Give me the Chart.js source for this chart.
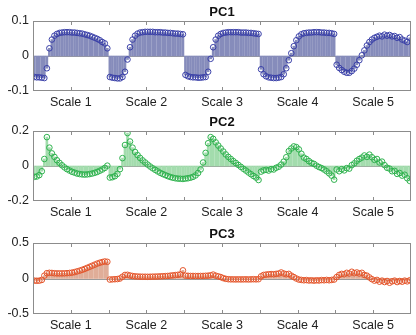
<!DOCTYPE html>
<html>
<head>
<meta charset="utf-8">
<script src="https://cdn.jsdelivr.net/npm/chart.js@4/dist/chart.umd.min.js"></script>
<style>
  body { margin: 0; background: #fff; }
  .panel { position: absolute; left: 0; width: 416px; }
</style>
</head>
<body>
<div class="panel" style="top:0px"><canvas id="pc1" width="416" height="110"></canvas></div>
<div class="panel" style="top:110px"><canvas id="pc2" width="416" height="110"></canvas></div>
<div class="panel" style="top:220px"><canvas id="pc3" width="416" height="115"></canvas></div>
<script>
// 5 scales, 30 loadings per scale
const scaleNames = ["Scale 1", "Scale 2", "Scale 3", "Scale 4", "Scale 5"];
const perScale = 30;
const titles = ["PC1", "PC2", "PC3"];
const yLimits = [0.1, 0.2, 0.5];

const pc1 = [
  -0.060, -0.061, -0.061, -0.062, -0.063, -0.035, 0.022, 0.047, 0.058, 0.063, 0.066, 0.067, 0.068, 0.068, 0.068, 0.067, 0.067, 0.066, 0.065, 0.064, 0.062, 0.060, 0.058, 0.055, 0.052, 0.049, 0.045, 0.040, 0.036, 0.022,
  -0.060, -0.062, -0.063, -0.064, -0.064, -0.060, -0.045, -0.010, 0.025, 0.047, 0.058, 0.064, 0.067, 0.068, 0.069, 0.069, 0.069, 0.069, 0.068, 0.068, 0.068, 0.067, 0.067, 0.066, 0.066, 0.065, 0.064, 0.064, 0.063, 0.062,
  -0.054, -0.058, -0.060, -0.061, -0.061, -0.062, -0.062, -0.061, -0.060, -0.045, -0.008, 0.025, 0.047, 0.058, 0.063, 0.066, 0.067, 0.068, 0.068, 0.068, 0.068, 0.068, 0.067, 0.067, 0.067, 0.066, 0.066, 0.065, 0.064, 0.063,
  -0.038, -0.052, -0.058, -0.061, -0.062, -0.063, -0.063, -0.062, -0.060, -0.052, -0.035, -0.012, 0.008, 0.028, 0.045, 0.056, 0.062, 0.065, 0.066, 0.067, 0.067, 0.068, 0.068, 0.068, 0.067, 0.067, 0.066, 0.066, 0.065, 0.063,
  -0.025, -0.034, -0.040, -0.045, -0.048, -0.048, -0.043, -0.036, -0.025, -0.012, 0.002, 0.016, 0.030, 0.040, 0.047, 0.052, 0.055, 0.058, 0.056, 0.061, 0.058, 0.060, 0.056, 0.057, 0.052, 0.054, 0.047, 0.044, 0.040, 0.052
];

const pc2 = [
  -0.062, -0.060, -0.052, -0.030, 0.040, 0.165, 0.105, 0.072, 0.052, 0.033, 0.018, 0.004, -0.008, -0.018, -0.026, -0.033, -0.038, -0.043, -0.046, -0.048, -0.049, -0.048, -0.046, -0.043, -0.039, -0.034, -0.027, -0.020, -0.011, 0.002,
  -0.066, -0.064, -0.058, -0.045, -0.018, 0.045, 0.120, 0.188, 0.140, 0.105, 0.080, 0.062, 0.046, 0.032, 0.020, 0.008, -0.003, -0.013, -0.022, -0.031, -0.039, -0.046, -0.052, -0.058, -0.063, -0.067, -0.070, -0.072, -0.073, -0.074,
  -0.072, -0.070, -0.067, -0.062, -0.054, -0.040, -0.020, 0.020, 0.075, 0.130, 0.165, 0.155, 0.135, 0.117, 0.100, 0.083, 0.066, 0.052, 0.040, 0.028, 0.017, 0.006, -0.005, -0.016, -0.026, -0.037, -0.047, -0.057, -0.066, -0.080,
  -0.032, -0.025, -0.022, -0.026, -0.018, -0.020, -0.010, -0.004, 0.008, 0.025, 0.050, 0.085, 0.100, 0.112, 0.108, 0.095, 0.070, 0.048, 0.040, 0.028, 0.018, 0.012, 0.002, -0.006, -0.012, -0.020, -0.030, -0.042, -0.055, -0.078,
  -0.020, -0.030, -0.018, -0.025, -0.012, -0.015, 0.005, 0.015, 0.030, 0.040, 0.048, 0.060, 0.052, 0.065, 0.050, 0.035, 0.040, 0.020, 0.025, 0.005, -0.010, -0.015, -0.030, -0.028, -0.045, -0.040, -0.055, -0.050, -0.070, -0.085
];

const pc3 = [
  -0.030, -0.032, -0.030, -0.020, 0.040, 0.075, 0.080, 0.078, 0.074, 0.072, 0.072, 0.072, 0.073, 0.075, 0.078, 0.083, 0.090, 0.100, 0.110, 0.122, 0.135, 0.150, 0.165, 0.180, 0.195, 0.210, 0.222, 0.232, 0.240, 0.235,
  -0.015, -0.012, -0.010, -0.008, 0.000, 0.025, 0.050, 0.052, 0.042, 0.035, 0.030, 0.028, 0.026, 0.025, 0.025, 0.024, 0.025, 0.026, 0.027, 0.028, 0.030, 0.032, 0.034, 0.036, 0.040, 0.044, 0.048, 0.052, 0.058, 0.115,
  0.040, 0.038, 0.036, 0.036, 0.035, 0.035, 0.036, 0.036, 0.038, 0.040, 0.045, 0.055, 0.040, 0.030, 0.020, 0.005, -0.005, -0.010, -0.012, -0.012, -0.013, -0.012, -0.013, -0.012, -0.012, -0.013, -0.012, -0.010, -0.012, -0.010,
  0.030, 0.050, 0.055, 0.060, 0.062, 0.060, 0.065, 0.070, 0.085, 0.070, 0.060, 0.065, 0.040, 0.020, 0.000, -0.015, -0.020, -0.025, -0.022, -0.028, -0.025, -0.030, -0.025, -0.028, -0.022, -0.025, -0.020, -0.025, -0.020, -0.015,
  0.020, 0.050, 0.065, 0.060, 0.080, 0.070, 0.095, 0.075, 0.085, 0.070, 0.080, 0.050, 0.040, 0.015, -0.010, -0.030, -0.020, -0.045, -0.030, -0.050, -0.035, -0.060, -0.040, -0.030, -0.050, -0.035, -0.045, -0.030, -0.040, -0.025
];

const FONT = "'Liberation Sans', Arial, Helvetica, sans-serif";
const total = scaleNames.length * perScale;

// matlab-ish axes box, inward ticks, zero line, title
const axesBox = {
  id: "axesBox",
  beforeDatasetsDraw(chart) {
    const { ctx, chartArea: a, scales } = chart;
    const y0 = Math.round(scales.y.getPixelForValue(0)) + 0.5;
    ctx.save();
    ctx.strokeStyle = "#9a9a9a";
    ctx.lineWidth = 1;
    ctx.beginPath();
    ctx.moveTo(a.left, y0);
    ctx.lineTo(a.right, y0);
    ctx.stroke();
    ctx.restore();
  },
  afterDraw(chart, args, opts) {
    const { ctx, chartArea: a, scales } = chart;
    ctx.save();
    ctx.strokeStyle = "#8c8c8c";
    ctx.lineWidth = 1;
    ctx.strokeRect(Math.round(a.left) + 0.5, Math.round(a.top) + 0.5,
      Math.round(a.right - a.left) - 1, Math.round(a.bottom - a.top) - 1);
    ctx.beginPath();
    scales.x.ticks.forEach((t, i) => {
      if (i === 0 || i === scales.x.ticks.length - 1) return;
      const px = Math.round(scales.x.getPixelForValue(t.value)) + 0.5;
      ctx.moveTo(px, a.top);
      ctx.lineTo(px, a.top + 4);
      ctx.moveTo(px, a.bottom);
      ctx.lineTo(px, a.bottom - 4);
    });
    ctx.stroke();
    ctx.fillStyle = "#111";
    ctx.font = "bold 13px " + FONT;
    ctx.textAlign = "center";
    ctx.textBaseline = "middle";
    ctx.fillText(opts.text, (a.left + a.right) / 2, a.top - 9);
    ctx.restore();
  },
};

function makePanel(id, title, values, lim, dotColor, stemColor, topPad, bottomH) {
  const pts = values.map((v, i) => ({ x: i + 1, y: v }));
  return new Chart(document.getElementById(id), {
    type: "bar",
    data: {
      datasets: [
        {
          type: "line",
          data: pts,
          showLine: false,
          pointRadius: 2.8,
          pointBorderWidth: 1,
          pointBorderColor: dotColor,
          pointBackgroundColor: "rgba(0,0,0,0)",
          order: 1,
        },
        {
          type: "bar",
          data: pts,
          backgroundColor: stemColor,
          barThickness: 2,
          order: 2,
        },
      ],
    },
    options: {
      responsive: false,
      animation: false,
      devicePixelRatio: 1,
      layout: { padding: { top: topPad, right: 1, left: 0, bottom: 0 } },
      plugins: {
        legend: { display: false },
        tooltip: { enabled: false },
        axesBox: { text: title },
      },
      scales: {
        x: {
          type: "linear",
          min: 0.5,
          max: total + 0.5,
          offset: false,
          grid: { display: false, drawTicks: false },
          border: { display: false },
          afterBuildTicks: (s) => {
            const t = [];
            for (let k = 0; k <= scaleNames.length * 2; k++) t.push({ value: 0.5 + k * perScale / 2 });
            s.ticks = t;
          },
          afterFit: (s) => { s.height = bottomH; },
          ticks: {
            autoSkip: false,
            maxRotation: 0,
            padding: 4,
            color: "#222",
            font: { family: FONT, size: 12.5 },
            callback: (v) => {
              const k = Math.round((v - 0.5) / (perScale / 2));
              return k % 2 === 1 ? scaleNames[(k - 1) / 2] : "";
            },
          },
        },
        y: {
          min: -lim,
          max: lim,
          grid: { display: false, drawTicks: false },
          border: { display: false },
          afterBuildTicks: (s) => { s.ticks = [{ value: -lim }, { value: 0 }, { value: lim }]; },
          afterFit: (s) => { s.width = 33; },
          ticks: {
            padding: 4,
            color: "#222",
            font: { family: FONT, size: 12.5 },
            callback: (v) => (v === 0 ? "0" : String(v)),
          },
        },
      },
    },
    plugins: [axesBox],
  });
}

makePanel("pc1", titles[0], pc1, yLimits[0], "#3a40a8", "#868cbb", 21, 19);
makePanel("pc2", titles[1], pc2, yLimits[1], "#2fb24e", "#a3dcad", 21, 19);
makePanel("pc3", titles[2], pc3, yLimits[2], "#e4562c", "#e0ad98", 23, 21);
</script>
</body>
</html>
